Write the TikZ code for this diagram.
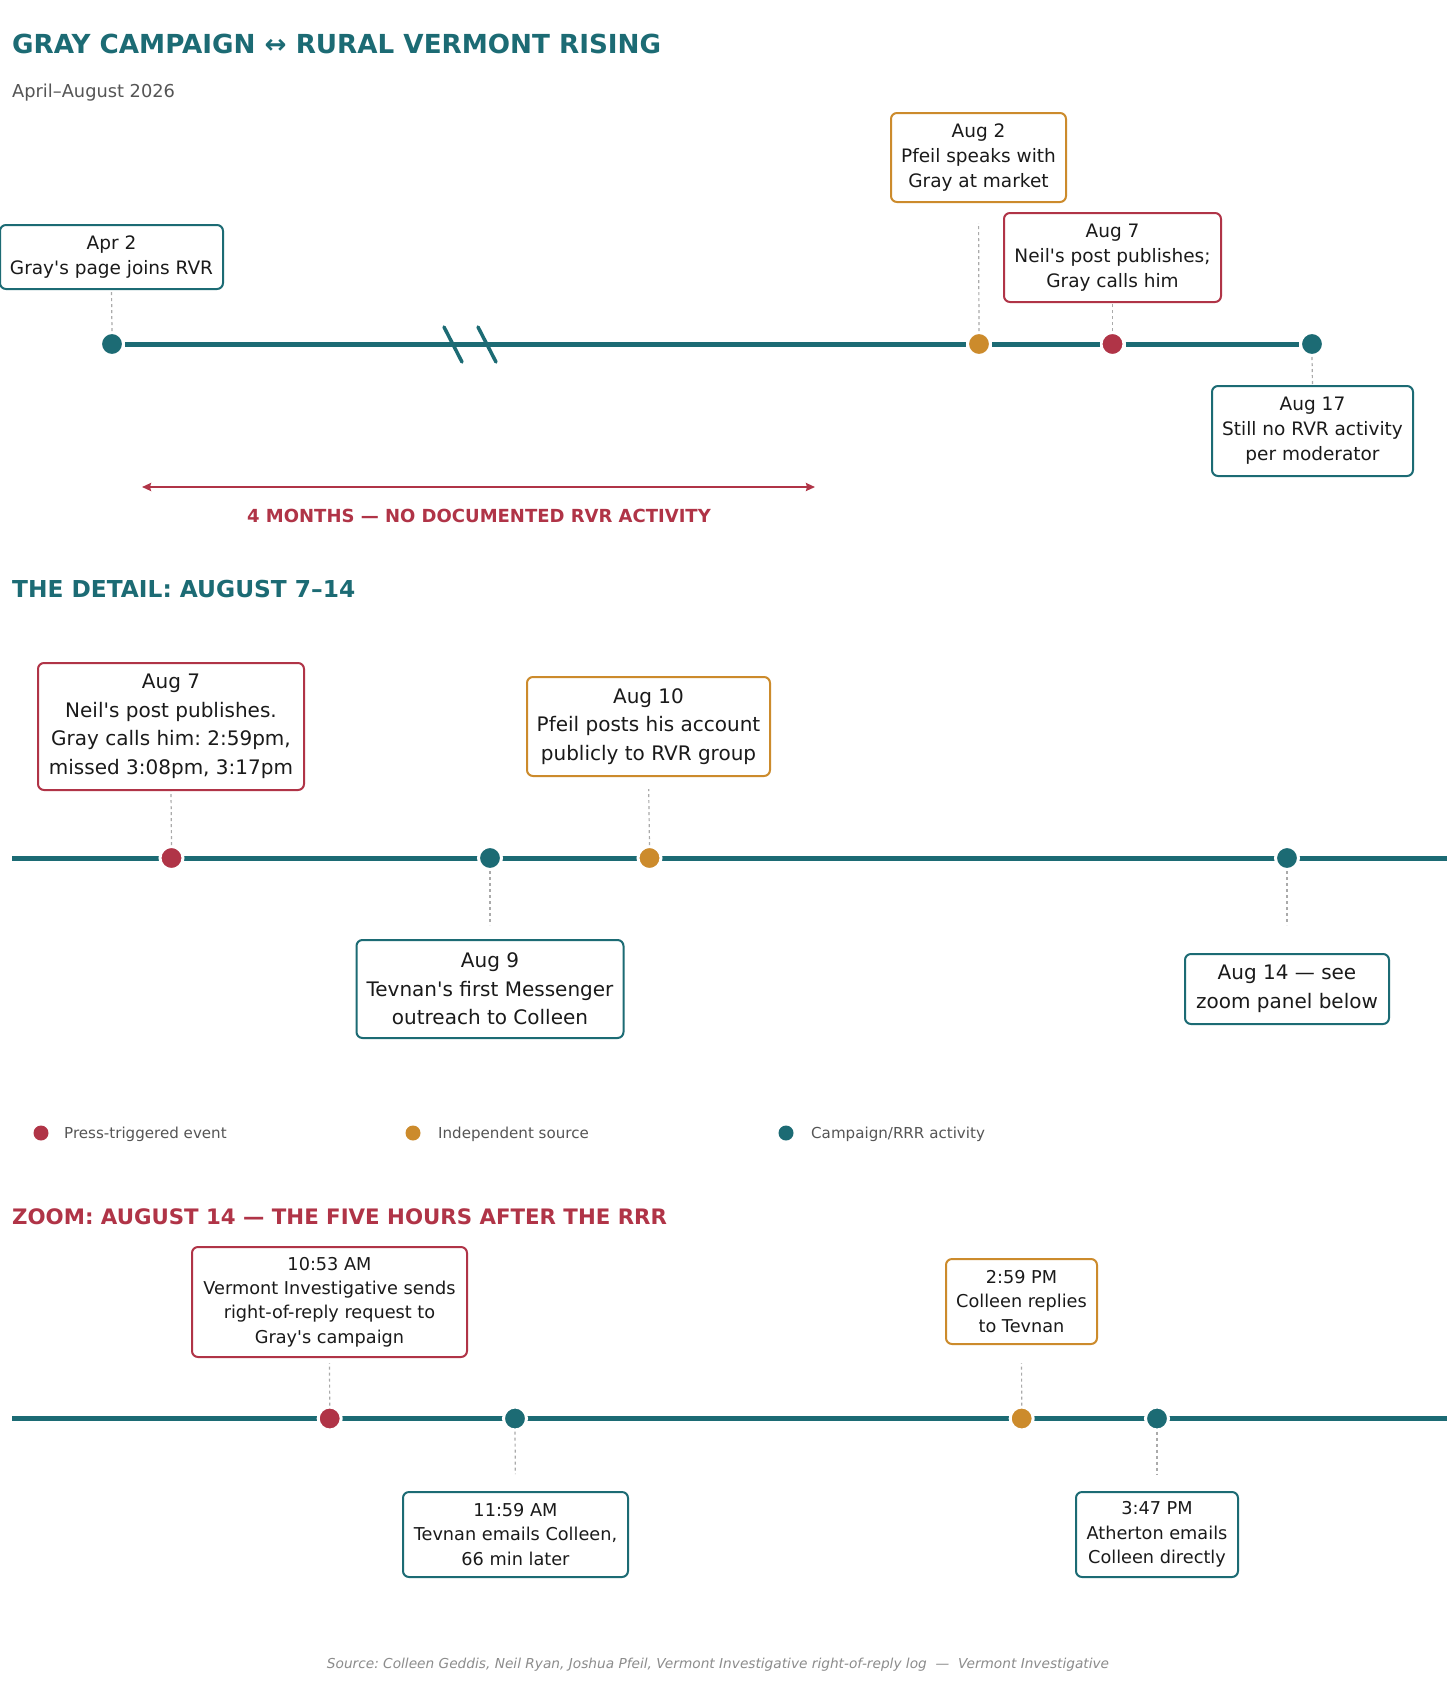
\documentclass[tikz,border=0pt]{standalone}
\usepackage{fontspec}
\setmainfont{DejaVu Sans}[Ligatures=TeXOff]
\usetikzlibrary{arrows.meta}
\frenchspacing
\definecolor{cteal}{HTML}{1C6B74}
\definecolor{cred}{HTML}{B03447}
\definecolor{corange}{HTML}{CC8B2C}
\definecolor{cgraytext}{HTML}{555555}
\definecolor{cstem}{HTML}{AAAAAA}
\definecolor{csource}{HTML}{8C8C8C}
\definecolor{cdark}{HTML}{1A1A1A}
\tikzset{
  box/.style={draw, rounded corners=6pt, line width=2pt, fill=white, align=center, text=cdark, inner sep=0pt},
  topfont/.style={font=\frenchspacing\fontsize{18.5}{25}\selectfont},
  detfont/.style={font=\frenchspacing\fontsize{20}{28.5}\selectfont},
  zoomfont/.style={font=\frenchspacing\fontsize{17.7}{24.3}\selectfont},
  dot/.style={circle, draw=white, line width=3pt, minimum size=23pt, inner sep=0pt},
  legdot/.style={circle, minimum size=15pt, inner sep=0pt},
  tline/.style={draw=cteal, line width=5pt},
  stem/.style={draw=cstem, line width=1.2pt, dash pattern=on 3pt off 3pt},
  slashmark/.style={draw=cteal, line width=3.5pt, line cap=round},
  rarrow/.style={draw=cred, line width=2pt, {Stealth[length=9pt,width=8pt,inset=1pt]}-{Stealth[length=9pt,width=8pt,inset=1pt]}},
  plain/.style={inner sep=0pt, anchor=base west},
}
\begin{document}
\begin{tikzpicture}[x=1pt,y=-1pt]
\useasboundingbox[fill=white] (0,0) rectangle (1456,1682);

% Titles
\node[plain, text=cteal, font=\bfseries\fontsize{26.2}{30}\selectfont] (title) at (12,53) {GRAY CAMPAIGN ↔ RURAL VERMONT RISING};
\node[plain, text=cgraytext, font=\fontsize{17.8}{20}\selectfont] (subtitle) at (12,97) {April–August 2026};

% ---------- Top timeline ----------
\node[dot, fill=cteal] (t1) at (112,344) {};
\node[dot, fill=corange] (t2) at (979,344) {};
\node[dot, fill=cred] (t3) at (1112.5,344) {};
\node[dot, fill=cteal] (t4) at (1312,344) {};
\draw[tline] (t1) -- (t2);
\draw[tline] (t2) -- (t3);
\draw[tline] (t3) -- (t4);
\coordinate (s1a) at (444,327); \coordinate (s1b) at (462,362);
\coordinate (s2a) at (478,327); \coordinate (s2b) at (496,362);
\draw[slashmark] (s1a) -- (s1b);
\draw[slashmark] (s2a) -- (s2b);

\node[box, draw=cteal, topfont, minimum width=223pt, minimum height=64pt] (b1) at (111.5,257) {Apr 2\\Gray's page joins RVR};
\node[box, draw=corange, topfont, minimum width=175pt, minimum height=89pt] (b2) at (978.5,157.5) {Aug 2\\Pfeil speaks with\\Gray at market};
\node[box, draw=cred, topfont, minimum width=217pt, minimum height=89pt] (b3) at (1112.5,257.5) {Aug 7\\Neil's post publishes;\\Gray calls him};
\node[box, draw=cteal, topfont, minimum width=201pt, minimum height=90pt] (b4) at (1312.5,431) {Aug 17\\Still no RVR activity\\per moderator};

\draw[stem] (t1.north) -- (b1.south);
\draw[stem, shorten >=20pt] (t2.north) -- (b2.south);
\draw[stem] (t3.north) -- (b3.south);
\draw[stem] (t4.south) -- (b4.north);

\coordinate (arrL) at (142,487);
\coordinate (arrR) at (815,487);
\draw[rarrow] (arrL) -- (arrR);
\node[inner sep=0pt, anchor=base, text=cred, font=\bfseries\fontsize{18}{20}\selectfont] (gaplabel) at (479,522) {4 MONTHS — NO DOCUMENTED RVR ACTIVITY};

% ---------- Detail ----------
\node[plain, text=cteal, font=\bfseries\fontsize{23.3}{26}\selectfont] (sec2) at (12,597) {THE DETAIL: AUGUST 7–14};

\coordinate (l2s) at (12,858);
\coordinate (l2e) at (1447,858);
\draw[tline] (l2s) -- (l2e);
\node[dot, fill=cred] (d1) at (171.5,858) {};
\node[dot, fill=cteal] (d2) at (490,858) {};
\node[dot, fill=corange] (d3) at (649.5,858) {};
\node[dot, fill=cteal] (d4) at (1287,858) {};

\node[box, draw=cred, detfont, minimum width=266pt, minimum height=127pt] (e1) at (171,726.5) {Aug 7\\Neil's post publishes.\\Gray calls him: 2:59pm,\\missed 3:08pm, 3:17pm};
\node[box, draw=corange, detfont, minimum width=243pt, minimum height=99pt] (e3) at (648.5,726.5) {Aug 10\\Pfeil posts his account\\publicly to RVR group};
\node[box, draw=cteal, detfont, minimum width=267pt, minimum height=98pt] (e2) at (490,989) {Aug 9\\Tevnan's first Messenger\\outreach to Colleen};
\node[box, draw=cteal, detfont, minimum width=204pt, minimum height=70pt] (e4) at (1287,989) {Aug 14 — see\\zoom panel below};

\draw[stem] (d1.north) -- (e1.south);
\draw[stem, shorten >=12pt] (d3.north) -- (e3.south);
\draw[stem, shorten >=14pt] (d2.south) -- (e2.north);
\draw[stem, shorten >=28pt] (d4.south) -- (e4.north);

% ---------- Legend ----------
\node[legdot, fill=cred] (lg1) at (41,1133) {};
\node[plain, text=cgraytext, font=\fontsize{15.1}{17}\selectfont] (lt1) at (64,1138) {Press-triggered event};
\node[legdot, fill=corange] (lg2) at (413,1133) {};
\node[plain, text=cgraytext, font=\fontsize{15.1}{17}\selectfont] (lt2) at (438,1138) {Independent source};
\node[legdot, fill=cteal] (lg3) at (786,1133) {};
\node[plain, text=cgraytext, font=\fontsize{15.1}{17}\selectfont] (lt3) at (811,1138) {Campaign/RRR activity};

% ---------- Zoom ----------
\node[plain, text=cred, font=\bfseries\fontsize{21.3}{26}\selectfont] (sec3) at (12,1224) {ZOOM: AUGUST 14 — THE FIVE HOURS AFTER THE RRR};

\coordinate (l3s) at (12,1418.5);
\coordinate (l3e) at (1447,1418.5);
\draw[tline] (l3s) -- (l3e);
\node[dot, fill=cred] (z1) at (329.7,1418.5) {};
\node[dot, fill=cteal] (z2) at (515,1418.5) {};
\node[dot, fill=corange] (z3) at (1021.7,1418.5) {};
\node[dot, fill=cteal] (z4) at (1157,1418.5) {};

\node[box, draw=cred, zoomfont, minimum width=275pt, minimum height=110pt] (y1) at (329.5,1302) {10:53 AM\\Vermont Investigative sends\\right-of-reply request to\\Gray's campaign};
\node[box, draw=cteal, zoomfont, minimum width=225pt, minimum height=85pt] (y2) at (515.5,1534.5) {11:59 AM\\Tevnan emails Colleen,\\66 min later};
\node[box, draw=corange, zoomfont, minimum width=151pt, minimum height=85pt] (y3) at (1021.5,1301.5) {2:59 PM\\Colleen replies\\to Tevnan};
\node[box, draw=cteal, zoomfont, minimum width=162pt, minimum height=85pt] (y4) at (1157,1534.5) {3:47 PM\\Atherton emails\\Colleen directly};

\draw[stem, shorten >=5pt] (z1.north) -- (y1.south);
\draw[stem, shorten >=17pt] (z2.south) -- (y2.north);
\draw[stem, shorten >=18pt] (z3.north) -- (y3.south);
\draw[stem, shorten >=17pt] (z4.south) -- (y4.north);

% ---------- Source ----------
\node[inner sep=0pt, anchor=base, text=csource, font=\itshape\fontsize{13.7}{15}\selectfont] (source) at (718,1668) {Source: Colleen Geddis, Neil Ryan, Joshua Pfeil, Vermont Investigative right-of-reply log \ — \ Vermont Investigative};
\end{tikzpicture}
\end{document}
